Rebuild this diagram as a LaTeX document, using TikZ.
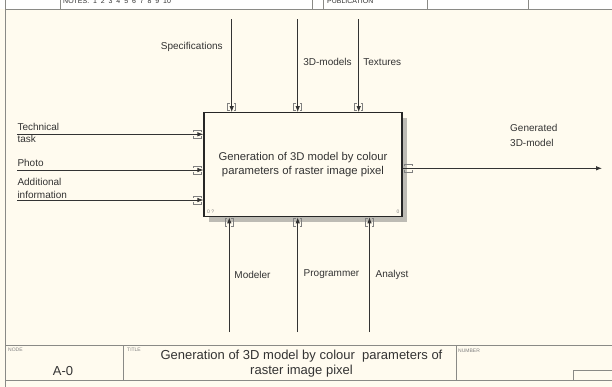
\documentclass[tikz,border=0pt]{standalone}
\usepackage{fontspec}
\setmainfont{Liberation Sans}
\usetikzlibrary{arrows.meta}
\definecolor{bg}{HTML}{FFFBEF}
\definecolor{ink}{HTML}{333333}
\definecolor{frame}{HTML}{8A8A86}
\definecolor{shadow}{HTML}{BDBBB4}
\tikzset{
  arr/.style={draw=ink, line width=0.8pt, -{Latex[length=6pt,width=4.5pt]}},
  lbl/.style={text=ink, font=\fontsize{10}{12.7}\selectfont, inner sep=0pt, align=left},
  tun/.style={draw=gray, line width=0.5pt},
  frm/.style={draw=frame, line width=0.8pt},
  tiny/.style={text=gray, font=\fontsize{5}{6}\selectfont, inner sep=0pt}
}
\begin{document}
\begin{tikzpicture}[x=1pt,y=-1pt]
\useasboundingbox (0,0) rectangle (612,387);
\fill[bg] (0,0) rectangle (612,387);
\fill[white] (0,0) rectangle (612,9);
% header strip
\draw[frm] (5.5,9) -- (612,9);
\foreach \hx in {60,312,323,427,528} \draw[frm] (\hx,0) -- (\hx,9);
\node[tiny, text=ink, font=\fontsize{7}{8}\selectfont, anchor=base west] (notes) at (63,3.2) {NOTES:\ \ 1\ \ 2\ \ 3\ \ 4\ \ 5\ \ 6\ \ 7\ \ 8\ \ 9\ \ 10};
\node[tiny, text=ink, font=\fontsize{7}{8}\selectfont, anchor=base west] (pub) at (327,3.2) {PUBLICATION};
% left border
\draw[frm] (5.5,0) -- (5.5,387);
% shadow + main box
\fill[shadow] (209,117.7) rectangle (407,221.7);
\node[draw=black!85, line width=1.2pt, fill=bg, minimum width=198pt, minimum height=104pt, inner sep=0pt,
      align=center, text=ink, font=\fontsize{11.3}{14}\selectfont] (box) at (303,164.7)
      {Generation of 3D model by colour\\parameters of raster image pixel};
\node[tiny, anchor=west] (c1) at (207,211.5) {0 ?};
\node[tiny, anchor=east] (c2) at (399.5,211.5) {0};
% controls (top)
\coordinate (t1) at (231.7,19.3);
\coordinate (t2) at (297.7,19.3);
\coordinate (t3) at (358.7,19.3);
\foreach \t in {t1,t2,t3} \draw[arr] (\t) -- (\t |- box.north);
\foreach \x in {231.7,297.7,358.7} {
  \draw[tun] (\x-2,103.5) -| (\x-4,110.5) -- (\x-2,110.5);
  \draw[tun] (\x+2,103.5) -| (\x+4,110.5) -- (\x+2,110.5);
}
\node[lbl] (lspec) at (191.8,47) {Specifications};
\node[lbl] (l3d) at (327.5,62) {3D-models};
\node[lbl] (ltex) at (382.3,62) {Textures};
% inputs (left)
\coordinate (a1) at (17,134.3);
\coordinate (a2) at (17,170);
\coordinate (a3) at (17,200);
\foreach \a in {a1,a2,a3} \draw[arr] (\a) -- (\a -| box.west);
\foreach \y in {134.3,170,200} {
  \draw[tun] (193.5,\y-2) |- (201.5,\y-4) -- (201.5,\y-2);
  \draw[tun] (193.5,\y+2) |- (201.5,\y+4) -- (201.5,\y+2);
}
\node[lbl, anchor=west] (ltech) at (17.3,133) {Technical\\task};
\node[lbl, anchor=west] (lphoto) at (17.3,163.3) {Photo};
\node[lbl, anchor=west, font=\fontsize{10}{13.3}\selectfont] (ladd) at (17.3,188.3) {Additional\\information};
% output (right)
\coordinate (o1) at (602,168.3);
\draw[arr] (box.east |- o1) -- (o1);
\draw[tun] (404,166.3) |- (412,164.3) -- (412,166.3);
\draw[tun] (404,170.3) |- (412,172.3) -- (412,170.3);
\node[lbl, anchor=west, font=\fontsize{10}{14.3}\selectfont] (lgen) at (510,135.5) {Generated\\3D-model};
% mechanisms (bottom)
\coordinate (b1) at (229.3,332);
\coordinate (b2) at (297.7,332);
\coordinate (b3) at (369.5,332);
\foreach \b in {b1,b2,b3} \draw[arr] (\b) -- (\b |- box.south);
\foreach \x in {229.3,297.7,369.5} {
  \draw[tun] (\x-2,218.5) -| (\x-4,226.5) -- (\x-2,226.5);
  \draw[tun] (\x+2,218.5) -| (\x+4,226.5) -- (\x+2,226.5);
}
\node[lbl] (lmod) at (252.5,275) {Modeler};
\node[lbl] (lprog) at (331.5,274) {Programmer};
\node[lbl] (lana) at (392,275) {Analyst};
% title block
\draw[frm] (5.5,345) -- (612,345);
\draw[frm] (5.5,380.7) -- (612,380.7);
\draw[frm] (123.3,345) -- (123.3,380.7);
\draw[frm] (456,345) -- (456,380.7);
\draw[frm] (573.3,380.7) |- (612,370);
\node[tiny, anchor=west] (tnode) at (8,350) {NODE};
\node[tiny, anchor=west] (ttitle) at (127,350) {TITLE};
\node[tiny, anchor=west] (tnum) at (458,350.5) {NUMBER};
\node[text=ink, font=\fontsize{13}{15}\selectfont, inner sep=0pt] (tA) at (63,371) {A-0};
\node[text=ink, font=\fontsize{13}{15}\selectfont, inner sep=0pt, align=center] (tT) at (301.5,363.5)
  {Generation of 3D model by colour\ \ parameters of\\raster image pixel};
\end{tikzpicture}
\end{document}
